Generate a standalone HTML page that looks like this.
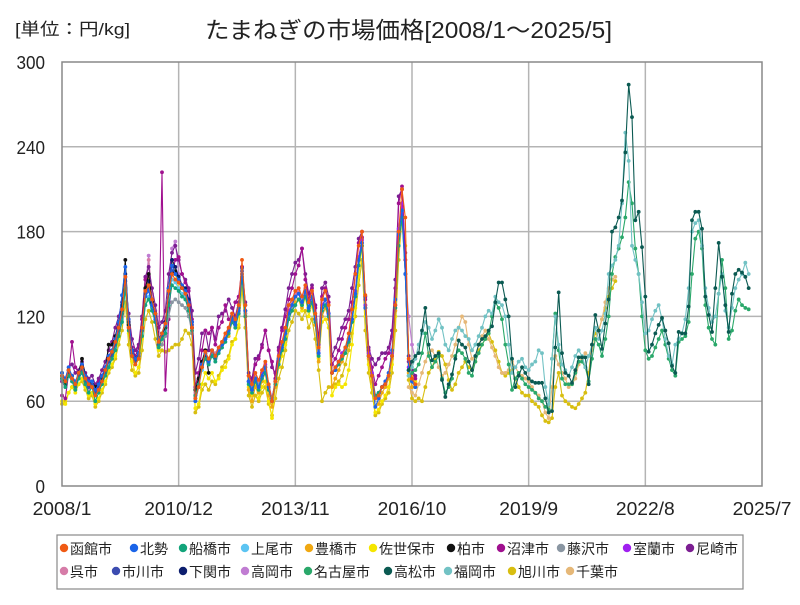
<!DOCTYPE html>
<html><head><meta charset="utf-8"><style>
body{margin:0;background:#fff;}
svg text{font-family:"Liberation Sans","Noto Sans CJK JP",sans-serif;}
</style></head><body>
<svg id="chart" width="800" height="600" viewBox="0 0 800 600" xmlns="http://www.w3.org/2000/svg">
<rect x="0" y="0" width="800" height="600" fill="#fff"/>
<text x="15" y="35" font-size="17" fill="#222" textLength="115" lengthAdjust="spacingAndGlyphs">[単位：円/kg]</text>
<text x="205" y="38" font-size="23" fill="#222" textLength="407" lengthAdjust="spacingAndGlyphs">たまねぎの市場価格[2008/1～2025/5]</text>
<g id="grid"></g>
<g id="series"></g>
<rect x="62" y="62" width="700" height="424" fill="none" stroke="#888" stroke-width="1.5"/>
<g id="legend"></g>
</svg>
<script>
const yTicks=[0,60,120,180,240,300];
const xTickLabels=["2008/1","2010/12","2013/11","2016/10","2019/9","2022/8","2025/7"];
const xTickMonths=[0,35,70,105,140,175,210];
const seriesNames=["函館市","北勢","船橋市","上尾市","豊橋市","佐世保市","柏市","沼津市","藤沢市","室蘭市","尼崎市","呉市","市川市","下関市","高岡市","名古屋市","高松市","福岡市","旭川市","千葉市"];
const seriesColors=["#f05a14","#1a64e8","#12a47a","#5cc4f2","#f0a812","#f5e600","#111111","#a0108f","#8a96a2","#a020f0","#7c1e92","#d67ca8","#3c4cb0","#0c1e6e","#c07cd2","#2aa86a","#0b5a52","#72c2c4","#d8be10","#e6b878"];
const seriesStart=[0,0,0,0,50,0,0,0,30,60,0,20,0,0,0,104,104,104,0,104];
const hakodate=[78,74,82,76,72,80,84,76,72,70,64,68,74,82,90,95,102,112,125,148,112,92,86,90,112,138,142,132,122,102,108,115,138,150,146,144,140,136,128,112,62,70,84,95,90,96,92,98,102,108,112,122,118,128,160,128,78,72,80,75,82,88,72,60,74,92,102,112,128,132,138,140,134,142,130,138,122,98,132,138,128,80,84,88,92,98,108,125,150,170,180,135,92,78,62,64,70,72,78,92,128,180,210,190,90,76,72];
const hokusei=[80,76,84,78,74,80,86,78,74,74,68,72,78,84,92,96,104,116,135,155,118,96,90,94,112,134,138,128,118,104,108,114,140,156,150,146,142,138,130,116,60,70,86,94,88,96,92,96,100,104,110,118,114,124,152,124,74,68,76,70,78,84,70,60,74,90,98,108,122,128,134,136,130,138,126,134,118,94,126,132,122,80,82,88,92,98,104,118,136,160,172,126,92,78,56,62,70,74,80,96,132,178,195,150,82,74,70];
const funabashi=[76,70,78,74,68,76,80,72,66,70,60,66,72,78,84,90,96,106,116,140,110,92,86,90,106,128,132,124,116,98,104,108,128,142,140,138,134,132,124,110,64,72,84,90,86,92,88,94,98,102,108,116,112,122,148,120,72,66,74,68,76,80,68,60,72,86,96,104,118,124,128,132,128,134,124,130,116,92,124,128,120,80,82,86,90,94,102,116,134,156,170,126,92,78,64,66,70,72,78,92,126,170,190,150,82,74,70];
const ageo=[76,72,78,76,70,76,80,74,70,70,64,68,74,80,86,92,98,108,118,140,114,94,88,92,108,128,134,126,118,100,104,110,132,146,144,140,136,134,126,110,62,70,82,90,86,92,88,94,98,102];
const toyohashi=[106,116,112,122,150,120,68,60,70,66,74,80,64,56,70,86,96,104,118,124,130,132,126,136,124,130,114,88,120,126,118,70,76,82,88,94,100,116,138,160,175,128,90,74,56,58,66,70,76,90,124,176,200,160,80,70];
const sasebo=[60,58,66,70,66,72,76,70,64,66,58,62,68,74,82,86,92,104,118,140,108,88,80,84,104,130,150,128,116,96,100,108,138,158,150,140,136,134,126,108,55,58,72,80,76,80,74,76,82,84,90,100,104,114,150,120,70,64,72,62,70,74,60,48,70,84,92,100,118,124,134,132,124,134,120,128,114,90,116,118,112,64,70,72,70,72,82,100,126,148,170,120,86,70,52,54,60,64,70,86,120,172,200,170,92,78,74];
const kashiwa=[78,72,82,78,72,80,90,78,72,74,70,72,76,82,100,100,106,116,128,160,114,96,90,94,112,140,150,130,122,104,108,112,138,150,152,146,140,138,130,112,68,76,88,96,80];
const numazu=[64,62,80,102,84,80,86,78,74,72,70,74,78,84,92,96,104,114,124,140,118,98,92,98,118,146,150,126,120,100,222,68,118,150,160,162,150,144,138,118,70,80,96,110,108,112,100,112,116,128,118,120,130,134,155,128,78,74,86,90,98,110,96,88,76,96,110,120,132,140,150,156,168,146,132,140,126,100,134,140,130,86,90,96,104,112,118,130,150,172,176,132,96,84,72,78,84,90,94,106,140,200,212,160,88,80,76];
const fujisawa=[100,106,120,130,132,130,128,126,120,108,64,72,84,92,88,94,90,96,98,104,108,118,114,122,150,122,74,68,76,72,78,82,70,62,74,90,98,108,120,126];
const muroran=[80,86,72,62,74,90,100,110,124,128,134,136,130,138,126,134,118,94,128,132,122,80,84,88,94,98,104,118,138,162,174,128,94,80,64,66,70,74,80,94,128,182,200,150,84];
const amagasaki=[74,76,84,86,80,82,88,80,76,78,72,76,82,88,96,102,112,120,130,145,122,104,96,100,120,148,155,140,128,112,116,124,150,165,170,160,150,146,140,124,80,90,108,110,96,112,104,120,122,124,132,126,120,130,155,130,80,76,90,92,100,110,96,84,80,98,112,125,140,150,158,160,168,150,136,142,128,104,140,144,134,92,98,104,112,118,124,140,155,175,180,134,98,90,86,90,94,94,98,110,146,205,210,165,92,82,78];
const kure=[116,96,88,92,110,138,160,136,124,104,108,114,140,160,155,146,140,136,128,112,70,80,88,92,90,96,94,98,102,106,112,120,116,124,150,122,74,70,78,72,80,84,70,60,74,90,100,110,124,130,136,138,130,140,126,134,120,96];
const ichikawa=[76,72,80,76,70,78,82,74,70,72,66,70,76,80,88,92,100,110,122,148,114,94,88,92,110,136,140,130,120,100,106,112,136,152,150,146,140,138,130,114,62,72,86,92,88,96,90,96,100,104,110,120,116,126,154,124,74,68,76];
const shimonoseki=[80,74,82,78,72,80,84,76,72,74,68,72,78,82,90,94,102,112,124,150,116,96,90,94,112,138,145,132,122,104,108,116,140,160,155,148,142,140,132,116,64,72,86,94,90];
const takaoka=[74,70,78,74,70,76,80,72,68,70,64,68,74,80,86,90,98,108,120,140,112,94,88,92,110,140,163,128,118,100,104,112,140,168,173,150,142,138,130,112,66,74,86,92,88,94,90,96,100,104,110,120,114,124,152,124,74,68,76,70,78,84,70,62,74,90,98,108,122,128,134,136,130,138,126,134,118,94,126,132,122,80,84,88,92,96,104,118,136,160,172,126,92,78,62,64,70,72,78,92,126,176,196,150,120,100,90];
const nagoya=[78,80,82,86,94,108,92,84,88,92,76,66,70,76,92,96,94,90,80,78,88,94,100,104,108,120,130,126,118,100,86,68,76,80,76,72,70,68,66,62,60,56,54,90,122,96,76,72,72,72,80,88,88,84,74,90,104,100,92,104,120,150,162,168,176,190,215,200,168,150,120,96,90,92,98,104,110,100,90,82,78,102,104,106,116,150,175,180,168,128,112,104,100,136,160,140,104,110,124,132,128,126,125];
const takamatsu=[82,88,92,94,110,126,100,89,92,94,75,63,72,79,90,103,100,98,88,82,92,100,104,106,110,113,130,144,144,132,120,90,70,78,84,80,76,74,73,73,73,62,52,53,98,137,94,80,78,73,82,91,91,91,72,100,121,110,97,115,132,180,183,190,202,236,284,261,188,194,169,134,95,100,108,114,119,110,101,85,80,109,108,108,127,188,194,194,182,134,121,109,140,172,148,128,109,136,150,153,151,148,140];
const fukuoka=[78,84,90,100,108,116,112,104,110,118,112,100,96,104,110,112,110,106,104,96,100,106,112,120,124,122,134,130,128,120,100,80,84,88,90,84,82,86,88,96,94,70,58,90,120,100,86,82,78,84,92,96,92,84,92,100,112,104,110,122,150,156,160,170,200,250,230,170,160,150,130,108,110,118,124,128,118,104,92,86,100,104,108,118,140,180,186,188,170,140,126,116,120,136,150,124,112,126,140,146,150,158,150];
const asahikawa=[58,60,66,70,68,72,74,68,62,64,56,60,66,72,80,84,90,100,110,130,100,82,78,80,96,118,124,116,104,92,96,95,96,98,100,100,104,110,108,100,52,56,68,72,68,74,72,78,84,88,92,102,104,112,140,112,64,56,64,60,66,70,58,50,62,76,84,96,110,116,124,122,118,124,112,118,104,82,60,66,70,70,72,74,78,86,96,108,120,142,160,110,80,66,50,52,58,62,66,80,110,160,190,150,75,62,60,62,60,70,80,84,90,95,92,86,75,68,72,80,84,88,84,82,88,96,100,104,108,102,96,88,80,78,80,82,76,70,66,64,64,60,58,56,50,46,45,48,70,80,64,60,58,56,55,58,62,66,80,100,108,110,118,126,134,140,145];
const chiba=[70,66,64,72,80,88,94,96,92,84,78,80,86,92,100,112,120,116,100,90,92,100,106,110,104,98,92,84,80,80,82,88,84,80,78,76,74,70,66,64,60,52,48,70,92,86,80,76,70,72,76,86,90,94,92,96,104,110,118,130,140,146,148];
const seriesValues=[hakodate,hokusei,funabashi,ageo,toyohashi,sasebo,kashiwa,numazu,fujisawa,muroran,amagasaki,kure,ichikawa,shimonoseki,takaoka,nagoya,takamatsu,fukuoka,asahikawa,chiba];
const drawOrder=[18,19,5,4,14,11,10,7,9,8,3,13,12,6,2,1,0,15,17,16];

const NS="http://www.w3.org/2000/svg";
const PL=62,PR=762,PT=62,PB=486,YMAX=300,XMAX=210;
function xScale(m){return PL+(m/XMAX)*(PR-PL);}
function yScale(v){return PB-(v/YMAX)*(PB-PT);}
function mk(tag,attrs){const e=document.createElementNS(NS,tag);for(const k in attrs)e.setAttribute(k,attrs[k]);return e;}

const grid=document.getElementById('grid');
yTicks.forEach(function(t){
  const y=yScale(t);
  if(t>0&&t<YMAX){const l=mk('line',{x1:PL,x2:PR,y1:y,y2:y,stroke:'#b4b4b4','stroke-width':1.5});
  
  
  grid.appendChild(l);}
  const s=String(t);
  const tx=mk('text',{x:45,y:y+7,'font-size':18,'text-anchor':'end',fill:'#222',textLength:s.length*9.5,lengthAdjust:'spacingAndGlyphs'});
  tx.textContent=s;
  
  
  grid.appendChild(tx);
});
xTickMonths.forEach(function(m,i){
  const x=xScale(m);
  if(m>0&&m<XMAX){const l=mk('line',{x1:x,x2:x,y1:PT,y2:PB,stroke:'#b4b4b4','stroke-width':1.5});
  
  
  grid.appendChild(l);}
  const s=xTickLabels[i];
  const tx=mk('text',{x:x,y:515,'font-size':18,'text-anchor':'middle',fill:'#222',textLength:s.length*9.8,lengthAdjust:'spacingAndGlyphs'});
  tx.textContent=s;
  
  
  grid.appendChild(tx);
});

const sg=document.getElementById('series');
drawOrder.forEach(function(si){
  const vals=seriesValues[si],st=seriesStart[si],col=seriesColors[si];
  const g=mk('g',{});
  
  
  const pts=vals.map(function(v,j){return xScale(st+j).toFixed(1)+','+yScale(v).toFixed(1);}).join(' ');
  const pl=mk('polyline',{points:pts,fill:'none',stroke:col,'stroke-width':1.1});
  
  
  g.appendChild(pl);
  vals.forEach(function(v,j){
    const c=mk('circle',{cx:xScale(st+j),cy:yScale(v),r:1.9,fill:col});
    
    
    g.appendChild(c);
  });
  sg.appendChild(g);
});

const lg=document.getElementById('legend');
const box=mk('rect',{x:57,y:535,width:686,height:54,fill:'#fff',stroke:'#888','stroke-width':1.2});


lg.appendChild(box);
const legendX=[58,128,177,239,303,367,445,495,555,621,684,58,110,177,239,302,382,442,506,564];
seriesNames.forEach(function(n,i){
  const row=i<11?0:1,x=legendX[i]+6,y=row?576:553;
  const g=mk('g',{});
  
  
  const c=mk('circle',{cx:x,cy:y-5,r:4.2,fill:seriesColors[i]});
  
  
  g.appendChild(c);
  const t=mk('text',{x:x+6,y:y+1,'font-size':14,fill:'#222'});
  t.textContent=n;
  
  
  g.appendChild(t);
  lg.appendChild(g);
});
</script>
</body></html>
